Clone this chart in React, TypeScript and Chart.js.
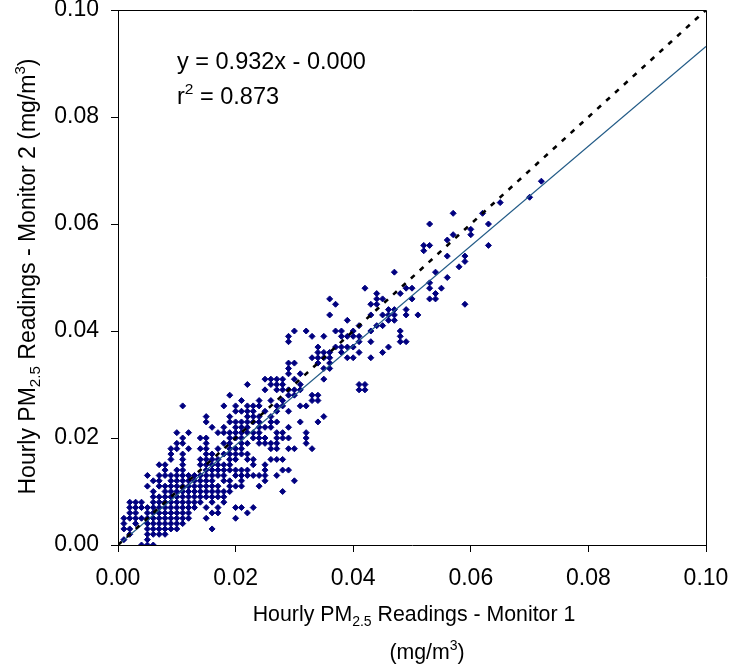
import React, { useEffect, useRef } from "react";
import { Chart, registerables } from "chart.js";

Chart.register(...registerables);

// Monitor 2 readings (µg/m3), one entry per row of points
const monitor2Levels = [
  0, 1, 2, 3, 4, 5, 6, 7, 8, 9, 10, 11, 12, 13, 14, 15, 16, 17, 18, 19, 20,
  21, 22, 23, 24, 25, 26, 27, 28, 29, 30, 31, 32, 33, 34, 35, 36, 37, 38, 39,
  40, 41, 42, 43, 44, 45, 46, 47, 48, 49, 50, 51, 52, 53, 54, 55, 56, 57, 58,
  59, 60, 62, 64, 65, 68,
];

// Monitor 1 readings (µg/m3) observed at each Monitor 2 level above
const monitor1AtLevel = [
  [4, 5, 6],
  [1, 5],
  [2, 5, 6, 7, 8],
  [1, 2, 5, 6, 7, 8, 9, 10, 16],
  [1, 3, 5, 6, 7, 8, 9, 10, 11],
  [1, 2, 3, 4, 5, 6, 7, 8, 9, 10, 11, 12, 15, 20],
  [2, 3, 5, 6, 7, 8, 9, 10, 11, 12, 16, 17, 22],
  [2, 3, 4, 5, 6, 7, 8, 9, 10, 11, 12, 13, 15, 17, 20, 21, 23],
  [2, 3, 4, 6, 7, 8, 9, 10, 11, 12, 13, 14, 16, 18],
  [6, 7, 8, 9, 10, 11, 12, 13, 14, 15, 16, 17, 18],
  [6, 8, 9, 10, 11, 12, 13, 14, 15, 16, 17, 18, 19, 28],
  [5, 7, 8, 9, 10, 11, 12, 13, 14, 15, 16, 17, 19, 20, 21, 24],
  [6, 7, 9, 10, 11, 12, 13, 14, 15, 16, 18, 19, 21, 25, 30],
  [5, 7, 8, 9, 10, 11, 12, 13, 14, 15, 16, 17, 18, 20, 21, 22, 23, 24, 25, 27],
  [8, 10, 11, 15, 16, 17, 18, 19, 20, 21, 22, 25, 28, 29],
  [7, 8, 11, 14, 15, 16, 17, 18, 19, 23, 25],
  [9, 11, 14, 15, 16, 17, 19, 20, 22, 23, 26, 27, 28],
  [9, 11, 15, 16, 18, 19, 20, 21, 22],
  [9, 10, 12, 14, 15, 17, 19, 20, 21, 26, 27, 29, 30, 33],
  [10, 11, 15, 18, 19, 21, 22, 24, 25, 26, 27, 32],
  [11, 14, 15, 19, 20, 21, 23, 24, 25, 27, 28, 29, 32],
  [10, 12, 17, 18, 19, 20, 21, 22, 23, 24, 27, 28, 32],
  [16, 18, 20, 21, 22, 24, 25, 26, 29],
  [15, 19, 20, 21, 22, 23, 24, 26, 27, 31, 34],
  [15, 19, 22, 23, 24, 26, 35],
  [20, 21, 22, 23, 25, 27, 29],
  [11, 18, 20, 22, 23, 24, 27, 28, 31, 32],
  [21, 24, 26, 28, 33, 34],
  [19, 29, 30, 33, 34],
  [25, 27, 28, 29, 30, 31, 41, 42],
  [22, 26, 27, 28, 31, 41, 42],
  [25, 26, 27, 28, 30, 35],
  [29, 31],
  [29, 35, 36],
  [29, 30, 34, 36],
  [33, 34, 35, 36, 39, 40, 43],
  [34, 35, 36, 38, 41, 45],
  [34, 37, 38, 39, 40, 46],
  [29, 41, 43, 48, 49],
  [29, 33, 35, 38, 39, 40, 41, 48],
  [30, 32, 37, 38, 40, 43, 48],
  [41, 44, 45],
  [39, 46, 47],
  [36, 43, 45, 46, 47, 49, 51],
  [46, 47, 49],
  [37, 43, 44, 59],
  [36, 44, 45, 50, 53, 54],
  [44, 48, 54],
  [42, 49, 50, 53, 55],
  [53],
  [56],
  [47, 54],
  [58],
  [59],
  [56, 59],
  [52],
  [52, 53, 63],
  [56],
  [57, 60],
  [60],
  [53, 63],
  [57, 62],
  [65],
  [70],
  [72],
];

const axisTicks = [0, 0.02, 0.04, 0.06, 0.08, 0.1];
const fitSlope = 0.932;
const fitIntercept = 0.0;
const equationLabel = "y = 0.932x - 0.000";
const r2Value = "0.873";
const xTitleMain = ["Hourly PM", "2.5", " Readings - Monitor 1"];
const yTitleMain = ["Hourly PM", "2.5", " Readings - Monitor 2 (mg/m", "3", ")"];

const FONT = "'Liberation Sans', Arial, Helvetica, sans-serif";

type Part = { t: string; m: "n" | "sub" | "sup" };

function measureParts(ctx: CanvasRenderingContext2D, parts: Part[], size: number) {
  let w = 0;
  for (const p of parts) {
    const s = p.m === "n" ? size : size * 0.66;
    ctx.font = `${s}px ${FONT}`;
    w += ctx.measureText(p.t).width;
  }
  return w;
}

function drawParts(
  ctx: CanvasRenderingContext2D,
  parts: Part[],
  x: number,
  y: number,
  size: number,
  align: "left" | "center"
) {
  const total = measureParts(ctx, parts, size);
  let cx = align === "center" ? x - total / 2 : x;
  ctx.textAlign = "left";
  ctx.textBaseline = "alphabetic";
  for (const p of parts) {
    const s = p.m === "n" ? size : size * 0.66;
    ctx.font = `${s}px ${FONT}`;
    const dy = p.m === "sub" ? size * 0.22 : p.m === "sup" ? -size * 0.42 : 0;
    ctx.fillText(p.t, cx, y + dy);
    cx += ctx.measureText(p.t).width;
  }
}

const textPlugin = {
  id: "pmText",
  afterDraw(chart: any) {
    const ctx: CanvasRenderingContext2D = chart.ctx;
    const area = chart.chartArea;
    ctx.save();
    // frame on top and right
    ctx.strokeStyle = "#000";
    ctx.lineWidth = 1;
    ctx.beginPath();
    ctx.moveTo(area.left, area.top + 0.5);
    ctx.lineTo(area.right + 0.5, area.top + 0.5);
    ctx.lineTo(area.right + 0.5, area.bottom);
    ctx.stroke();

    ctx.fillStyle = "#000";
    const midX = (area.left + area.right) / 2;
    // x title
    drawParts(
      ctx,
      [
        { t: xTitleMain[0], m: "n" },
        { t: xTitleMain[1], m: "sub" },
        { t: xTitleMain[2], m: "n" },
      ],
      midX + 2,
      621,
      21.3,
      "center"
    );
    drawParts(
      ctx,
      [
        { t: "(mg/m", m: "n" },
        { t: "3", m: "sup" },
        { t: ")", m: "n" },
      ],
      midX + 15,
      659,
      21.3,
      "center"
    );
    // y title
    ctx.save();
    ctx.translate(35, (area.top + area.bottom) / 2 - 1);
    ctx.rotate(-Math.PI / 2);
    drawParts(
      ctx,
      [
        { t: yTitleMain[0], m: "n" },
        { t: yTitleMain[1], m: "sub" },
        { t: yTitleMain[2], m: "n" },
        { t: yTitleMain[3], m: "sup" },
        { t: yTitleMain[4], m: "n" },
      ],
      0,
      0,
      23,
      "center"
    );
    ctx.restore();
    // equation
    drawParts(ctx, [{ t: equationLabel, m: "n" }], 177, 69, 23.5, "left");
    drawParts(
      ctx,
      [
        { t: "r", m: "n" },
        { t: "2", m: "sup" },
        { t: " = " + r2Value, m: "n" },
      ],
      177,
      104,
      23.5,
      "left"
    );
    ctx.restore();
  },
};

export default function App() {
  const canvasRef = useRef<HTMLCanvasElement | null>(null);

  useEffect(() => {
    const canvas = canvasRef.current;
    if (!canvas) return;

    const points: { x: number; y: number }[] = [];
    monitor2Levels.forEach((lvl, i) => {
      for (const m1 of monitor1AtLevel[i]) {
        points.push({ x: m1 / 1000, y: lvl / 1000 });
      }
    });

    const xMin = axisTicks[0];
    const xMax = axisTicks[axisTicks.length - 1];

    const tickFont = { family: FONT, size: 23, lineHeight: 0.85 };

    const chart = new Chart(canvas, {
      type: "scatter",
      data: {
        datasets: [
          {
            label: "1:1",
            data: [
              { x: xMin, y: xMin },
              { x: xMax, y: xMax },
            ],
            showLine: true,
            borderColor: "#000000",
            borderWidth: 2.6,
            borderDash: [5, 7],
            pointRadius: 0,
            order: 0,
          },
          {
            label: "Linear fit",
            data: [
              { x: xMin, y: fitSlope * xMin + fitIntercept },
              { x: xMax, y: fitSlope * xMax + fitIntercept },
            ],
            showLine: true,
            borderColor: "#215a86",
            borderWidth: 1.3,
            pointRadius: 0,
            order: 0,
          },
          {
            label: "Hourly readings",
            data: points,
            pointStyle: "rectRot",
            pointRadius: 3,
            pointBorderWidth: 1,
            backgroundColor: "#000080",
            borderColor: "#000080",
            order: 1,
          },
        ],
      },
      options: {
        animation: false,
        responsive: false,
        devicePixelRatio: 1,
        layout: { padding: { left: 0, top: 10, right: 24, bottom: 0 } },
        plugins: {
          legend: { display: false },
          tooltip: { enabled: false },
        },
        scales: {
          x: {
            type: "linear",
            min: xMin,
            max: xMax,
            afterBuildTicks: (s: any) => {
              s.ticks = axisTicks.map((v) => ({ value: v }));
            },
            afterFit: (s: any) => {
              s.height = 125;
              s.paddingLeft = 0;
              s.paddingRight = 0;
            },
            ticks: {
              color: "#000",
              font: tickFont,
              padding: 17,
              maxRotation: 0,
              callback: (v: any) => Number(v).toFixed(2),
            },
            grid: {
              drawOnChartArea: false,
              drawTicks: true,
              tickLength: 7,
              color: "#000",
            },
            border: { display: true, color: "#000", width: 1 },
          },
          y: {
            type: "linear",
            min: xMin,
            max: xMax,
            afterBuildTicks: (s: any) => {
              s.ticks = axisTicks.map((v) => ({ value: v }));
            },
            afterFit: (s: any) => {
              s.width = 118;
              s.paddingTop = 0;
              s.paddingBottom = 0;
            },
            ticks: {
              color: "#000",
              font: tickFont,
              padding: 12,
              callback: (v: any) => Number(v).toFixed(2),
            },
            grid: {
              drawOnChartArea: false,
              drawTicks: true,
              tickLength: 7,
              color: "#000",
            },
            border: { display: true, color: "#000", width: 1 },
          },
        },
      },
      plugins: [textPlugin],
    });

    return () => chart.destroy();
  }, []);

  return (
    <div style={{ position: "absolute", left: 0, top: 0, width: 730, height: 670, background: "#fff" }}>
      <canvas ref={canvasRef} width={730} height={670} style={{ width: 730, height: 670, display: "block" }} />
    </div>
  );
}
